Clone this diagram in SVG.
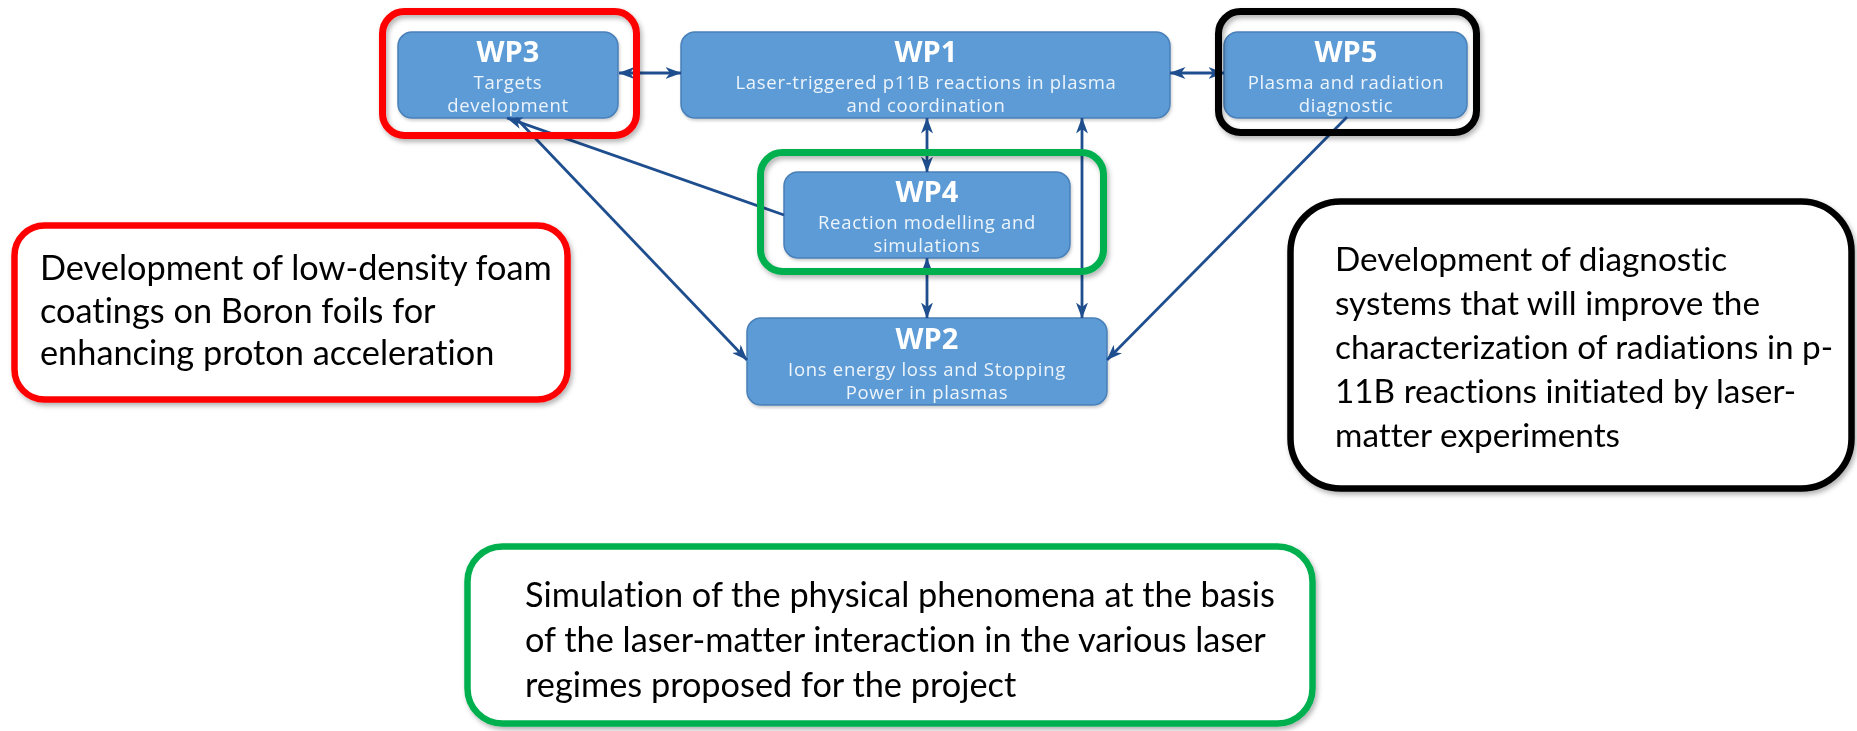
<svg xmlns="http://www.w3.org/2000/svg" width="1857" height="731" viewBox="0 0 1857 731">
  <defs>
    <filter id="shadow" x="-10%" y="-10%" width="125%" height="135%">
      <feDropShadow dx="2" dy="3" stdDeviation="2.5" flood-color="#000" flood-opacity="0.3"/>
    </filter>
    <filter id="soft" x="-10%" y="-10%" width="120%" height="130%">
      <feDropShadow dx="1" dy="2" stdDeviation="1.5" flood-color="#000" flood-opacity="0.2"/>
    </filter>
    <marker id="arrow" viewBox="0 0 16 12" refX="15.5" refY="6" markerWidth="16" markerHeight="12" markerUnits="userSpaceOnUse" orient="auto-start-reverse">
      <path d="M0,0 L16,6 L0,12 L4.5,6 z" fill="#1f4e8f"/>
    </marker>
  </defs>
  <style>
    .wp rect { fill: #5b9bd5; stroke: #4a80b8; stroke-width: 1.5; }
    .title { font-family: "Open Sans", "DejaVu Sans", sans-serif; font-weight: 700; font-size: 29px; fill: #ffffff; text-anchor: middle; }
    .sub { font-family: "Open Sans", "DejaVu Sans", sans-serif; font-size: 18.5px; fill: #eef4fb; text-anchor: middle; letter-spacing: 0.7px; }
    .conn { stroke: #1f4e8f; stroke-width: 2.8; fill: none; }
    .frame { fill: none; stroke-width: 7; }
    .note rect { fill: #ffffff; stroke-width: 6.5; }
    .note text { font-family: Lato, "Liberation Sans", sans-serif; font-size: 34.3px; fill: #000000; font-variant-ligatures: none; }
    #note-diagnostic text { font-size: 33.3px; }
  </style>

  <rect width="1857" height="731" fill="#ffffff"/>

  <!-- work package boxes -->
  <g id="wp3" class="wp" filter="url(#soft)">
    <rect x="398" y="32" width="220" height="86" rx="14"/>
    <text class="title" x="508" y="62">WP3</text>
    <text class="sub" x="508" y="89">Targets</text>
    <text class="sub" x="508" y="112">development</text>
  </g>
  <g id="wp1" class="wp" filter="url(#soft)">
    <rect x="681" y="32" width="489" height="86" rx="14"/>
    <text class="title" x="926" y="62">WP1</text>
    <text class="sub" x="926" y="89">Laser-triggered p11B reactions in plasma</text>
    <text class="sub" x="926" y="112">and coordination</text>
  </g>
  <g id="wp5" class="wp" filter="url(#soft)">
    <rect x="1224" y="32" width="243" height="86" rx="14"/>
    <text class="title" x="1346" y="62">WP5</text>
    <text class="sub" x="1346" y="89">Plasma and radiation</text>
    <text class="sub" x="1346" y="112">diagnostic</text>
  </g>
  <g id="wp4" class="wp" filter="url(#soft)">
    <rect x="784" y="172" width="286" height="86" rx="14"/>
    <text class="title" x="927" y="202">WP4</text>
    <text class="sub" x="927" y="229">Reaction modelling and</text>
    <text class="sub" x="927" y="252">simulations</text>
  </g>
  <g id="wp2" class="wp" filter="url(#soft)">
    <rect x="747" y="318" width="360" height="87" rx="14"/>
    <text class="title" x="927" y="349">WP2</text>
    <text class="sub" x="927" y="376">Ions energy loss and Stopping</text>
    <text class="sub" x="927" y="399">Power in plasmas</text>
  </g>

  <!-- links between work packages -->
  <g id="connectors">
    <path class="conn" d="M619,73 H681" marker-start="url(#arrow)" marker-end="url(#arrow)"/>
    <path class="conn" d="M1170,73 H1224" marker-start="url(#arrow)" marker-end="url(#arrow)"/>
    <path class="conn" d="M927,118 V172" marker-start="url(#arrow)" marker-end="url(#arrow)"/>
    <path class="conn" d="M927,258 V318" marker-start="url(#arrow)" marker-end="url(#arrow)"/>
    <path class="conn" d="M1082,118 V318" marker-start="url(#arrow)" marker-end="url(#arrow)"/>
    <path class="conn" d="M784,215 L507,118" marker-end="url(#arrow)"/>
    <path class="conn" d="M516,118 L747,360" marker-end="url(#arrow)"/>
    <path class="conn" d="M1347,117 L1107,360" marker-end="url(#arrow)"/>
  </g>

  <!-- highlight frames around work packages -->
  <g id="frame-wp3" filter="url(#shadow)">
    <rect class="frame" x="382.5" y="11.5" width="254" height="124" rx="22" stroke="#ff0000"/>
  </g>
  <g id="frame-wp5" filter="url(#shadow)">
    <rect class="frame" x="1218.5" y="11.5" width="258" height="121" rx="22" stroke="#000000"/>
  </g>
  <g id="frame-wp4" filter="url(#shadow)">
    <rect class="frame" x="760.5" y="152.5" width="343" height="119" rx="22" stroke="#00b050"/>
  </g>

  <!-- description notes -->
  <g id="note-targets" class="note" filter="url(#shadow)">
    <rect x="14.5" y="225.5" width="553" height="174" rx="30" stroke="#ff0000"/>
    <text x="40" y="280">Development of low-density foam</text>
    <text x="40" y="323">coatings on Boron foils for</text>
    <text x="40" y="365">enhancing proton acceleration</text>
  </g>
  <g id="note-diagnostic" class="note" filter="url(#shadow)">
    <rect x="1290.5" y="201.5" width="561" height="287" rx="50" stroke="#000000"/>
    <text x="1335" y="271">Development of diagnostic</text>
    <text x="1335" y="315">systems that will improve the</text>
    <text x="1335" y="359">characterization of radiations in p-</text>
    <text x="1335" y="403">11B reactions initiated by laser-</text>
    <text x="1335" y="447">matter experiments</text>
  </g>
  <g id="note-simulation" class="note" filter="url(#shadow)">
    <rect x="467.5" y="546.5" width="845" height="177" rx="35" stroke="#00b050"/>
    <text x="525" y="607">Simulation of the physical phenomena at the basis</text>
    <text x="525" y="652">of the laser-matter interaction in the various laser</text>
    <text x="525" y="697">regimes proposed for the project</text>
  </g>
</svg>
